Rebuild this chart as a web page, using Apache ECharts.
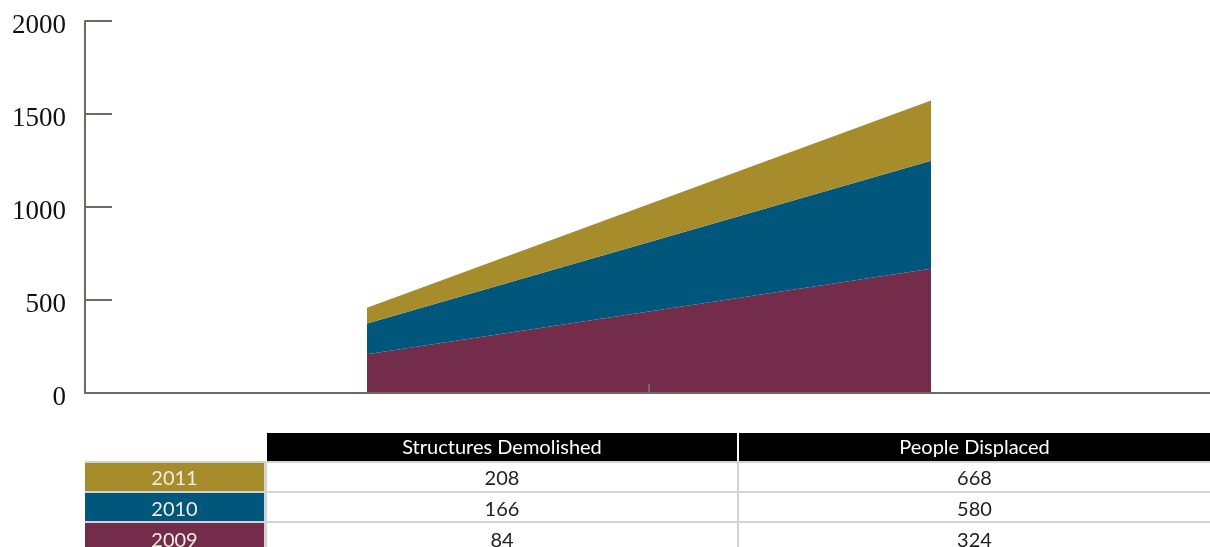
<!DOCTYPE html>
<html>
<head>
    <meta charset="utf-8">
    <title>Structures Demolished / People Displaced</title>
    <script src="https://cdn.jsdelivr.net/npm/echarts/dist/echarts.min.js"></script>
    <style>
        body { margin: 0; background: #fff; }
        #chart { width: 1210px; height: 547px; }
    </style>
</head>
<body>
<div id="chart"></div>
<script>
    // data
    var categories = ['Structures Demolished', 'People Displaced'];
    var years = ['2011', '2010', '2009'];
    var structures = [208, 166, 84];
    var displaced = [668, 580, 324];
    var yTicks = [0, 500, 1000, 1500, 2000];

    // colours of the table rows (2011, 2010, 2009)
    var rowColors = ['#a68c2a', '#00567b', '#732d4a'];
    // the areas are stacked 2011 at the bottom, drawn in the reverse colours
    var areaColors = ['#732d4a', '#00567b', '#a68c2a'];

    var axisColor = '#716860';
    var myChart = echarts.init(document.getElementById('chart'));

    var series = [];
    for (var i = 0; i < years.length; i++) {
        series.push({
            name: years[i],
            type: 'line',
            stack: 'total',
            data: [structures[i], displaced[i]],
            showSymbol: false,
            lineStyle: {width: 0},
            areaStyle: {color: areaColors[i], opacity: 1},
            itemStyle: {color: areaColors[i]},
            z: 1
        });
    }

    // table under the chart
    var left = 85, labelW = 179;
    var col1X = 267, col1W = 470;
    var col2X = 739, col2W = 471;
    var headY = 433, rowH = 28, firstRowY = 463, rowStep = 30;
    var txt = function (t, x, y, color) {
        return {type: 'text', x: x, y: y, z: 10,
            style: {text: t, fill: color, font: '20px Lato', align: 'center', verticalAlign: 'middle'}};
    };
    var graphics = [];

    // grey grid lines behind the body cells
    graphics.push({type: 'rect', shape: {x: left, y: firstRowY - 2, width: 1210 - left, height: 547 - firstRowY + 2},
        style: {fill: '#d3d3d6'}});
    graphics.push({type: 'rect', shape: {x: col1X, y: headY, width: col1W, height: rowH}, style: {fill: '#000'}});
    graphics.push({type: 'rect', shape: {x: col2X, y: headY, width: col2W, height: rowH}, style: {fill: '#000'}});
    graphics.push(txt(categories[0], col1X + col1W / 2, headY + 15, '#fff'));
    graphics.push(txt(categories[1], col2X + col2W / 2, headY + 15, '#fff'));

    for (var r = 0; r < years.length; r++) {
        var y = firstRowY + r * rowStep;
        graphics.push({type: 'rect', shape: {x: left, y: y, width: labelW, height: rowH}, style: {fill: rowColors[r]}});
        graphics.push({type: 'rect', shape: {x: col1X, y: y, width: col1W, height: rowH}, style: {fill: '#fff'}});
        graphics.push({type: 'rect', shape: {x: col2X, y: y, width: col2W, height: rowH}, style: {fill: '#fff'}});
        graphics.push(txt(years[r], left + labelW / 2, y + 16 + r, '#f3ece0'));
        graphics.push(txt(String(structures[r]), col1X + col1W / 2, y + 16 + r, '#222'));
        graphics.push(txt(String(displaced[r]), col2X + col2W / 2, y + 16 + r, '#222'));
    }

    myChart.setOption({
        animation: false,
        grid: {left: 85, width: 1128, top: 21, height: 372, outerBoundsMode: 'none'},
        xAxis: {
            type: 'category',
            data: categories,
            boundaryGap: true,
            axisLine: {lineStyle: {color: axisColor, width: 2}},
            axisTick: {show: true, interval: 0, inside: true, length: 9, lineStyle: {color: axisColor, width: 2}},
            axisLabel: {show: false},
            zlevel: 1
        },
        yAxis: {
            type: 'value',
            min: yTicks[0],
            max: yTicks[yTicks.length - 1],
            interval: yTicks[1] - yTicks[0],
            axisLine: {show: true, lineStyle: {color: axisColor, width: 2}},
            axisTick: {show: true, inside: true, length: 27, lineStyle: {color: axisColor, width: 2}},
            splitLine: {show: false},
            axisLabel: {
                margin: 19,
                formatter: function (v) { return '{n|' + v + '}'; },
                rich: {
                    n: {color: '#111', fontFamily: 'Liberation Serif', fontSize: 27, padding: [9, 0, 0, 0]}
                }
            },
            zlevel: 1
        },
        series: series,
        graphic: graphics
    });
</script>
</body>
</html>
